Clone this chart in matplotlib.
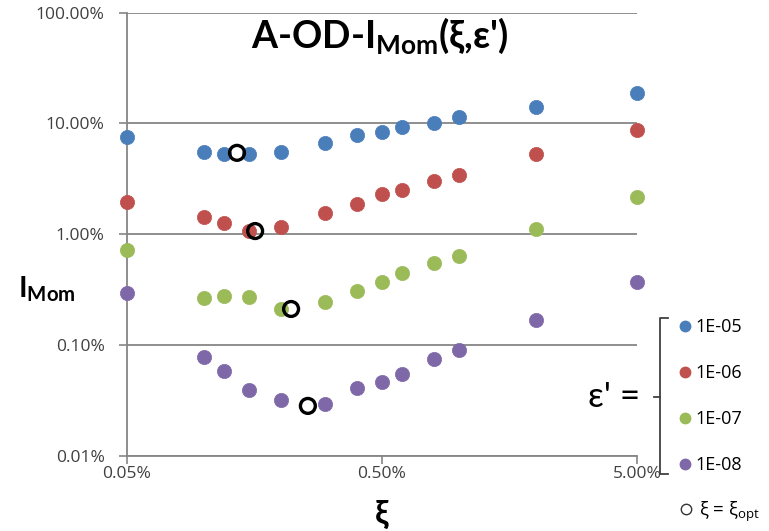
import matplotlib
matplotlib.use("Agg")
import matplotlib.pyplot as plt
from matplotlib.lines import Line2D
import matplotlib.ticker as mticker

plt.rcParams['font.family'] = ['Lato', 'DejaVu Sans']
plt.rcParams['mathtext.fontset'] = 'custom'
plt.rcParams['mathtext.rm'] = 'Open Sans'
plt.rcParams['mathtext.bf'] = 'Lato:bold'

# data (in %)
xi = [0.05, 0.1, 0.12, 0.15, 0.2, 0.3, 0.4, 0.5, 0.6, 0.8, 1.0, 2.0, 5.0]
series_labels = ["1E-05", "1E-06", "1E-07", "1E-08"]
i_1e05 = [7.57, 5.54, 5.32, 5.3, 5.5, 6.68, 7.89, 8.40, 9.32, 10.1, 11.5, 14.1, 18.9]
i_1e06 = [1.96, 1.44, 1.27, 1.07, 1.17, 1.56, 1.88, 2.32, 2.52, 3.03, 3.44, 5.32, 8.76]
i_1e07 = [0.723, 0.267, 0.278, 0.272, 0.212, 0.245, 0.308, 0.372, 0.449, 0.552, 0.638, 1.12, 2.18]
i_1e08 = [0.296, 0.0782, 0.0585, 0.0394, 0.032, 0.0295, 0.0411, 0.0465, 0.055, 0.075, 0.0905, 0.169, 0.372]
opt_xi = [0.135, 0.159, 0.22, 0.256]
opt_i = [5.43, 1.07, 0.212, 0.0283]
colors = ["#4A7EBB", "#C0504D", "#9BBB59", "#7F68A8"]

tick_font = ['Open Sans', 'DejaVu Sans']

fig = plt.figure(figsize=(7.69, 5.31), dpi=100)
ax = fig.add_axes([127/769, 1-456/531, (637-127)/769, (456-12.6)/531])
ax.set_xscale('log')
ax.set_yscale('log')
ax.set_xlim(0.05, 5.0)
ax.set_ylim(0.01, 100)

handles = []
for vals, c, lab in zip([i_1e05, i_1e06, i_1e07, i_1e08], colors, series_labels):
    ax.scatter(xi, vals, s=105, color=c, edgecolors=c, linewidths=0.5, zorder=3, clip_on=False)
    handles.append(Line2D([], [], marker='o', linestyle='none', markersize=7.5,
                          markerfacecolor=c, markeredgecolor=c, label=lab))
ax.scatter(opt_xi, opt_i, s=115, facecolors='none', edgecolors='black', linewidths=2.4, zorder=4)

ax.yaxis.set_major_locator(mticker.FixedLocator([0.01, 0.1, 1, 10, 100]))
ax.yaxis.set_major_formatter(mticker.FixedFormatter(["0.01%", "0.10%", "1.00%", "10.00%", "100.00%"]))
ax.yaxis.set_minor_locator(mticker.NullLocator())
ax.xaxis.set_major_locator(mticker.FixedLocator([0.05, 0.5, 5.0]))
ax.xaxis.set_major_formatter(mticker.FixedFormatter(["0.05%", "0.50%", "5.00%"]))
ax.xaxis.set_minor_locator(mticker.NullLocator())

ax.grid(axis='y', color='#868686', linewidth=1.3)
ax.set_axisbelow(True)
for s in ['top', 'right']:
    ax.spines[s].set_visible(False)
for s in ['left', 'bottom']:
    ax.spines[s].set_color('#868686')
    ax.spines[s].set_linewidth(1.3)
ax.tick_params(axis='both', direction='out', length=6, color='#868686', width=1.2,
               labelsize=12.5, labelcolor='#404040')
ax.tick_params(axis='y', pad=10)
ax.tick_params(axis='x', pad=1)
for lbl in ax.get_xticklabels() + ax.get_yticklabels():
    lbl.set_family(tick_font)

ax.set_xlabel("ξ", fontsize=24, fontweight='bold', labelpad=13)
fig.text(0.024, 0.455, r"I$_{\mathbf{Mom}}$", fontsize=21, fontweight='bold', ha='left', va='center')
fig.text(380/769, 1-36/531, r"A-OD-I$_{\mathbf{Mom}}$(ξ,ε')", fontsize=27, fontweight='bold',
         ha='center', va='center')

fig.legend(handles=handles, loc='upper left', bbox_to_anchor=(667/769, 1-311/531),
           frameon=False, prop={'family': tick_font, 'size': 13}, labelspacing=1.55,
           handletextpad=0.0, handlelength=1.2, borderaxespad=0)
opt_handle = Line2D([], [], marker='o', linestyle='none', markersize=7.5,
                    markerfacecolor='none', markeredgecolor='#333333', label=r"ξ = ξ$_{\mathrm{opt}}$")
fig.legend(handles=[opt_handle], loc='center left', bbox_to_anchor=(667/769, 1-512/531),
           frameon=False, prop={'family': tick_font, 'size': 13.5},
           handletextpad=0.1, handlelength=1.2, borderaxespad=0)

# brace
bx = 660/769
ytop, ybot, ymid = 1-318/531, 1-474/531, 1-397/531
fig.add_artist(Line2D([bx + 8/769, bx, bx, bx + 8/769], [ytop, ytop, ybot, ybot],
                      transform=fig.transFigure, color='#404040', linewidth=1.3))
fig.add_artist(Line2D([bx - 6/769, bx], [ymid, ymid], transform=fig.transFigure,
                      color='#404040', linewidth=1.3))
fig.text(640/769, ymid, "ε' =", fontsize=25, ha='right', va='center')

fig.savefig("out.png", dpi=100)
